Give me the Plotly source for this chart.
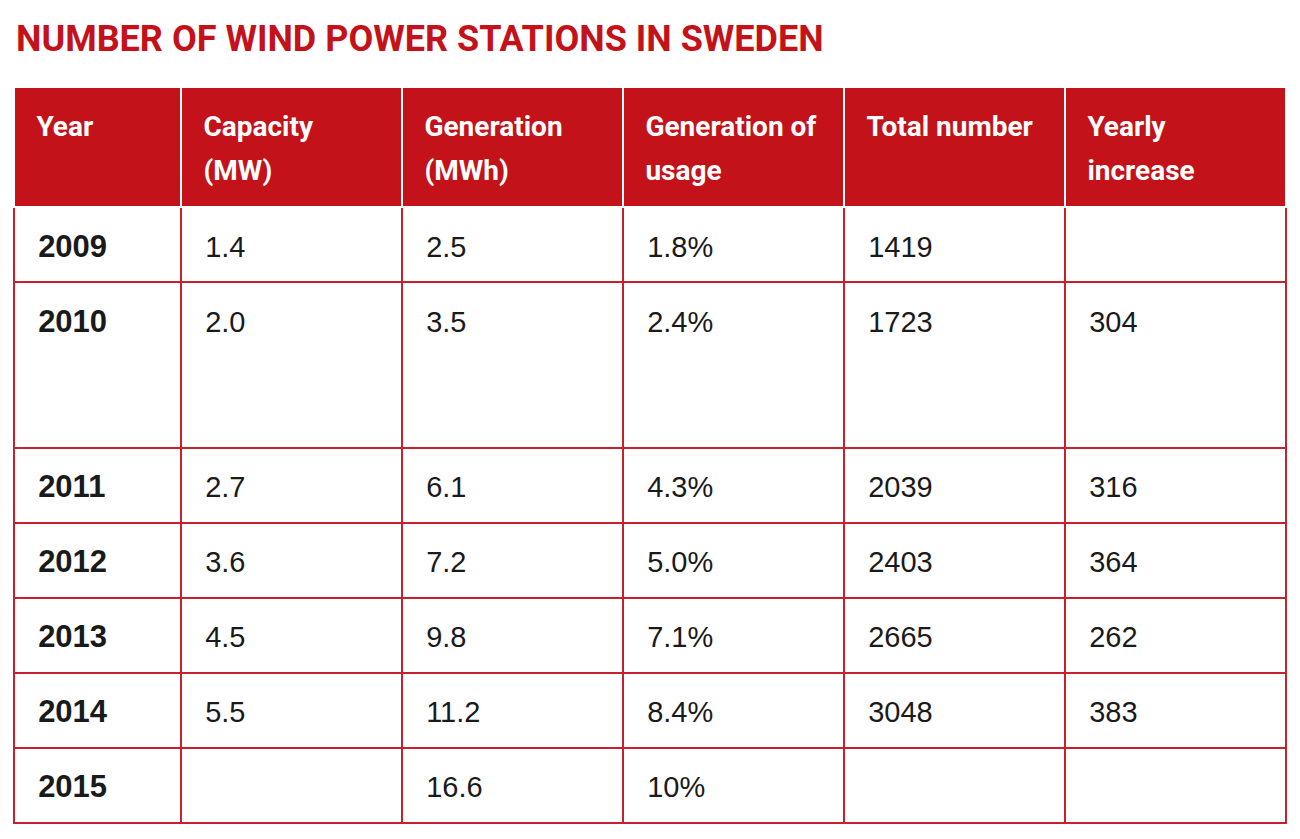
import plotly.graph_objects as go

# Table data
header = [["Year"], ["Capacity", "(MW)"], ["Generation", "(MWh)"],
          ["Generation of", "usage"], ["Total number"], ["Yearly", "increase"]]
years = ["2009", "2010", "2011", "2012", "2013", "2014", "2015"]
capacity = ["1.4", "2.0", "2.7", "3.6", "4.5", "5.5", ""]
generation = ["2.5", "3.5", "6.1", "7.2", "9.8", "11.2", "16.6"]
usage = ["1.8%", "2.4%", "4.3%", "5.0%", "7.1%", "8.4%", "10%"]
total = ["1419", "1723", "2039", "2403", "2665", "3048", ""]
increase = ["", "304", "316", "364", "262", "383", ""]

RED = "#C4121A"
LINE = "#C8202E"
NB = "\u00a0"
INDENT = "<span style='font-size:29px'>" + NB * 2 + "</span>"


def span(text, size):
    return "<span style='font-size:%dpx'>%s</span>" % (size, text)


def head_text(lines):
    # blank first line pushes the label down, blank line between lines widens spacing
    body = ("<br>" + NB + "<br>").join(INDENT + span("<b>" + l + "</b>", 28) for l in lines)
    return span(NB, 21) + "<br>" + body


def cell_text(vals, bold=False):
    out = []
    for i, v in enumerate(vals):
        s = span("<b>" + v + "</b>", 31) if bold and v else span(v, 29)
        s = NB + "<br>" + INDENT + s
        if years[i] == "2010":  # taller row in the original
            s += ("<br>" + NB) * 3 + "<br>" + span(NB, 44)
        out.append(s)
    return out


columns = [cell_text(years, bold=True), cell_text(capacity), cell_text(generation),
           cell_text(usage), cell_text(total), cell_text(increase)]

fig = go.Figure(go.Table(
    columnwidth=[167, 221, 221, 221, 221, 221],
    header=dict(
        values=[head_text(h) for h in header],
        fill_color=RED,
        line=dict(color="white", width=2),
        font=dict(color="white", size=17, family="Roboto"),
        align="left",
        height=120,
    ),
    cells=dict(
        values=columns,
        fill_color="white",
        line=dict(color=LINE, width=2),
        font=dict(color="#1a1a1a", size=19, family="Liberation Sans"),
        align="left",
        height=75,
    ),
    domain=dict(x=[6 / 1300, 1278 / 1300], y=[0.0, 1 - 79 / 839]),
))

fig.update_layout(
    width=1300, height=839,
    margin=dict(l=0, r=0, t=0, b=0),
    paper_bgcolor="white",
    title=dict(
        text="<b>NUMBER OF WIND POWER STATIONS IN SWEDEN</b>",
        x=8 / 1300, xanchor="left", y=1 - 30 / 839, yanchor="middle",
        font=dict(color=RED, size=36, family="Roboto"),
    ),
)

fig.write_html("out.html")
